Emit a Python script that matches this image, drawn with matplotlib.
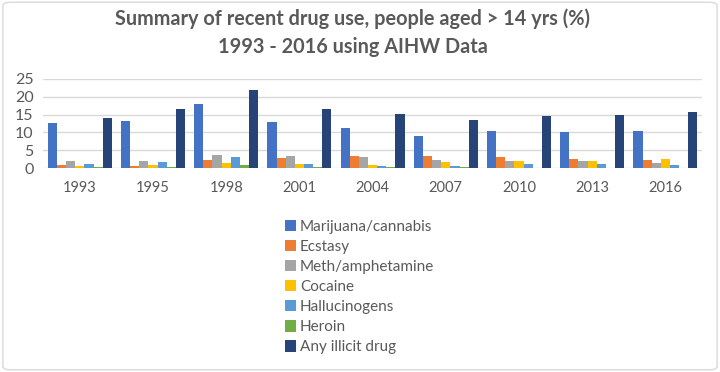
import matplotlib.pyplot as plt
import numpy as np
from matplotlib.patches import FancyBboxPatch

years = ["1993", "1995", "1998", "2001", "2004", "2007", "2010", "2013", "2016"]
series = ["Marijuana/cannabis", "Ecstasy", "Meth/amphetamine", "Cocaine",
          "Hallucinogens", "Heroin", "Any illicit drug"]
marijuana = [12.7, 13.1, 17.9, 12.9, 11.3, 9.1, 10.3, 10.2, 10.4]
ecstasy = [1.0, 0.7, 2.4, 2.9, 3.4, 3.5, 3.0, 2.5, 2.2]
meth = [1.9, 2.1, 3.7, 3.4, 3.2, 2.3, 2.1, 2.1, 1.4]
cocaine = [0.5, 0.9, 1.4, 1.3, 1.0, 1.6, 2.1, 2.1, 2.5]
hallucinogens = [1.1, 1.7, 3.0, 1.1, 0.7, 0.6, 1.3, 1.3, 1.0]
heroin = [0.2, 0.4, 0.8, 0.2, 0.2, 0.2, 0.1, 0.1, 0.1]
any_illicit = [14.0, 16.7, 22.0, 16.7, 15.3, 13.4, 14.7, 15.0, 15.6]

values = [marijuana, ecstasy, meth, cocaine, hallucinogens, heroin, any_illicit]
colors = ["#4472C4", "#ED7D31", "#A5A5A5", "#FFC000", "#5B9BD5", "#70AD47", "#264478"]

plt.rcParams['font.family'] = ['Lato', 'DejaVu Sans']
txt = "#595959"

fig = plt.figure(figsize=(7.2, 3.72), dpi=100)
ax = fig.add_axes([0.06, 0.548, 0.915, 0.24])

x = np.arange(len(years))
w = 0.125
for i, (name, vals) in enumerate(zip(series, values)):
    ax.bar(x + (i - 3) * w, vals, w, color=colors[i], label=name, zorder=3)

ax.set_xlim(-0.5, len(years) - 0.5)
ax.set_ylim(0, 25)
ax.set_yticks([0, 5, 10, 15, 20, 25])
ax.set_xticks(x)
ax.set_xticklabels(years)
ax.grid(axis='y', color="#d9d9d9", lw=1, zorder=0)
for s in ax.spines.values():
    s.set_visible(False)
ax.tick_params(length=0, colors=txt, labelsize=11.5)
ax.tick_params(axis='x', pad=9, labelsize=10.5)
ax.tick_params(axis='y', pad=7)

fig.text(0.49, 0.95, "Summary of recent drug use, people aged > 14 yrs (%)",
         ha='center', va='center', fontsize=14.3, fontweight='bold', color=txt)
fig.text(0.49, 0.873, "1993 - 2016 using AIHW Data",
         ha='center', va='center', fontsize=14.3, fontweight='bold', color=txt)

fig.legend(loc='upper left', bbox_to_anchor=(0.385, 0.43), frameon=False,
           fontsize=11, labelcolor=txt, handlelength=0.75, handleheight=0.75,
           handletextpad=0.25, labelspacing=0.4, borderpad=0)

fig.patches.append(FancyBboxPatch((0.004, 0.006), 0.992, 0.988,
                                  boxstyle="round,pad=0,rounding_size=0.01",
                                  transform=fig.transFigure, fill=False,
                                  edgecolor="#d9d9d9", lw=1))

fig.savefig("out.png", dpi=100)
